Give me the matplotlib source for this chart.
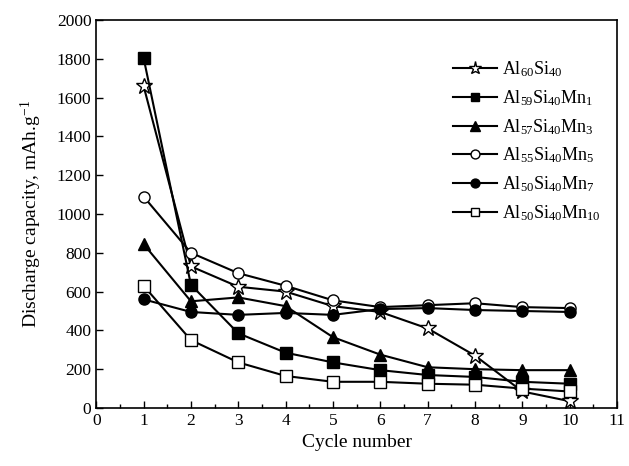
import numpy as np
import matplotlib.pyplot as plt
from matplotlib.ticker import MultipleLocator

plt.rcParams['font.family'] = ['Liberation Serif', 'DejaVu Serif']
plt.rcParams['mathtext.fontset'] = 'custom'
plt.rcParams['mathtext.rm'] = 'Liberation Serif'
plt.rcParams['mathtext.it'] = 'Liberation Serif'

cycles = [1, 2, 3, 4, 5, 6, 7, 8, 9, 10]

al60si40 = [1660, 730, 625, 600, 525, 495, 410, 270, 85, 35]
mn1 = [1805, 635, 385, 285, 235, 195, 170, 160, 135, 125]
mn3 = [845, 550, 570, 525, 365, 275, 210, 200, 195, 195]
mn5 = [1090, 800, 695, 630, 555, 520, 530, 540, 520, 515]
mn7 = [560, 495, 480, 490, 480, 510, 515, 505, 500, 495]
mn10 = [630, 350, 235, 165, 135, 135, 125, 120, 100, 85]

labels = [r'Al$_{60}$Si$_{40}$', r'Al$_{59}$Si$_{40}$Mn$_{1}$',
          r'Al$_{57}$Si$_{40}$Mn$_{3}$', r'Al$_{55}$Si$_{40}$Mn$_{5}$',
          r'Al$_{50}$Si$_{40}$Mn$_{7}$', r'Al$_{50}$Si$_{40}$Mn$_{10}$']

fig = plt.figure(figsize=(6.29, 4.66), dpi=100)
ax = fig.add_axes([0.153, 0.1245, 0.828, 0.8325])

kw = dict(color='black', lw=1.5, markeredgecolor='black', markeredgewidth=1.0)
ax.plot(cycles, al60si40, marker='*', ms=12, mfc='white', label=labels[0], **kw)
ax.plot(cycles, mn1, marker='s', ms=8, mfc='black', label=labels[1], **kw)
ax.plot(cycles, mn3, marker='^', ms=9, mfc='black', label=labels[2], **kw)
ax.plot(cycles, mn5, marker='o', ms=8, mfc='white', label=labels[3], **kw)
ax.plot(cycles, mn7, marker='o', ms=8, mfc='black', label=labels[4], **kw)
ax.plot(cycles, mn10, marker='s', ms=8, mfc='white', label=labels[5], **kw)

ax.set_xlim(0, 11)
ax.set_ylim(0, 2000)
ax.xaxis.set_major_locator(MultipleLocator(1))
ax.xaxis.set_minor_locator(MultipleLocator(0.5))
ax.yaxis.set_major_locator(MultipleLocator(200))
ax.tick_params(axis='both', which='both', direction='in', labelsize=12.5)
ax.tick_params(which='major', length=5, width=1)
ax.tick_params(which='minor', length=3, width=1)
for s in ax.spines.values():
    s.set_linewidth(1.2)

ax.set_xlabel('Cycle number', fontsize=14)
ax.set_ylabel(r'Discharge capacity, mAh.g$^{-1}$', fontsize=14, labelpad=9)

ax.legend(loc='upper right', bbox_to_anchor=(1.0, 0.94), frameon=False,
          fontsize=13, handlelength=2.4, labelspacing=0.5, handletextpad=0.3,
          markerscale=0.8)

fig.savefig('out.png', dpi=100)
